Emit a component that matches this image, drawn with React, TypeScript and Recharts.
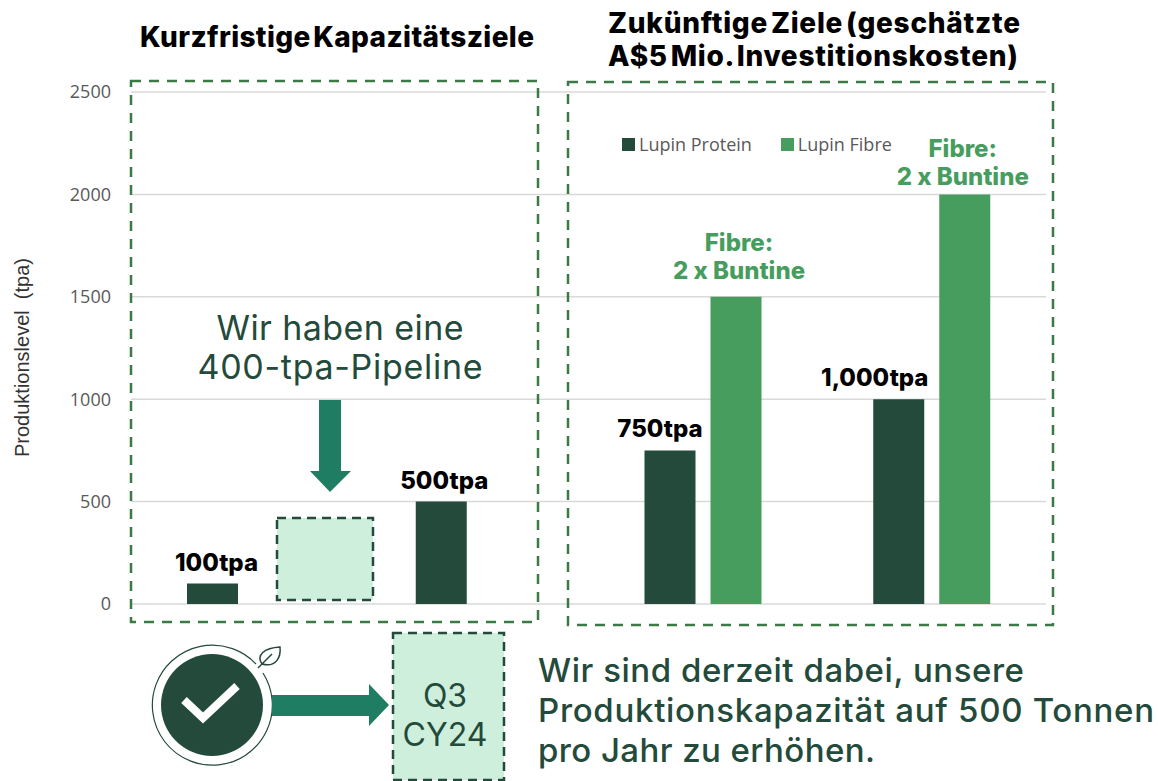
import { BarChart, Bar, YAxis, XAxis, CartesianGrid, LabelList, Legend } from "recharts";

const CATEGORIES = ["Kurzfristig 1", "Kurzfristig 2", "Zukunft 1", "Zukunft 2"];
const PROTEIN = [100, 500, 750, 1000];
const FIBRE = [0, 0, 1500, 2000];
const PROTEIN_LABELS = ["100tpa", "500tpa", "750tpa", "1,000tpa"];
const FIBRE_LABELS = ["", "", "Fibre:|2 x Buntine", "Fibre:|2 x Buntine"];
const Y_TICKS = [0, 500, 1000, 1500, 2000, 2500];

const data = CATEGORIES.map((name, i) => ({
  name,
  protein: PROTEIN[i],
  fibre: FIBRE[i],
  proteinLabel: PROTEIN_LABELS[i],
  fibreLabel: FIBRE_LABELS[i],
}));

const DARK = "#234a3a";
const GREEN = "#479d5e";
const TEAL = "#1f7d63";
const PALE = "#cdefdc";
const BOX = "#3b7a45";
const HEAD = "Inter, sans-serif";

// the labels do not sit centred over the bars in the original
const proteinShift: Record<string, number> = { "100tpa": 4, "500tpa": 3, "750tpa": -10, "1,000tpa": -24 };

function ProteinLabel(props: any) {
  const { x, y, width, value } = props;
  return (
    <text
      x={x + width / 2 + proteinShift[value]}
      y={y - 13}
      textAnchor="middle"
      fontFamily={HEAD}
      fontWeight={800}
      fontSize={24}
      fill="#000"
    >
      {value}
    </text>
  );
}

function FibreLabel(props: any) {
  const { x, y, width, value } = props;
  if (!value) return null;
  const lines = String(value).split("|");
  // the first one sits a bit right of its bar and higher up, the second left and lower
  const first = y > 250;
  const cx = x + width / 2 + (first ? 3 : -2);
  const base = first ? y : y + 9;
  return (
    <g fontFamily={HEAD} fontWeight={800} fontSize={24} fill={GREEN} textAnchor="middle">
      <text x={cx} y={base - 46}>{lines[0]}</text>
      <text x={cx} y={base - 18}>{lines[1]}</text>
    </g>
  );
}

function ChartLegend() {
  const items = [
    { label: "Lupin Protein", color: DARK },
    { label: "Lupin Fibre", color: GREEN },
  ];
  return (
    <div style={{ display: "flex", gap: 29, fontFamily: "'Open Sans', sans-serif", fontSize: 18, color: "#595959" }}>
      {items.map((it) => (
        <div key={it.label} style={{ display: "flex", alignItems: "center", gap: 4 }}>
          <span style={{ width: 13, height: 13, background: it.color, display: "inline-block" }} />
          {it.label}
        </div>
      ))}
    </div>
  );
}

function Overlay() {
  return (
    <svg width={1158} height={781} style={{ position: "absolute", left: 0, top: 0, pointerEvents: "none" }}>
      <g fontFamily={HEAD} fontWeight={800} fontSize={28} fill="#000" wordSpacing={-4}>
        <text x={140} y={47} textLength={394}>Kurzfristige Kapazitätsziele</text>
        <text x={608} y={33} textLength={412}>Zukünftige Ziele (geschätzte</text>
        <text x={608} y={66} textLength={410}>A$5 Mio. Investitionskosten)</text>
      </g>

      <g fill="none" stroke={BOX} strokeWidth={2.5} strokeDasharray="10 8">
        <rect x={131} y={81} width={407} height={541} />
        <rect x={568} y={82} width={485} height={543} />
      </g>

      <rect x={277} y={518} width={96} height={82} fill={PALE} stroke={DARK} strokeWidth={2.5} strokeDasharray="9 6" />

      <g fontFamily={HEAD} fontSize={34} fill={DARK} textAnchor="middle">
        <text x={340} y={340} textLength={247}>Wir haben eine</text>
        <text x={340} y={379} textLength={285}>400-tpa-Pipeline</text>
      </g>
      <polygon points="319,400 341,400 341,471 351,471 330,492 310,471 319,471" fill={TEAL} />

      <path d="M263,673 A60,60 0 1 1 256,664" fill="none" stroke={DARK} strokeWidth={1.2} />
      <circle cx={212} cy={705} r={51} fill={DARK} />
      <polyline points="184,700 203,718 237,686" fill="none" stroke="#fff" strokeWidth={8} />
      <path d="M258,668 L262,664 C256,655 264,648 280,647 C281,656 277,668 262,664 M262,664 L272,654" fill="#fff" stroke={DARK} strokeWidth={1.5} />
      <polygon points="272,695 369,695 369,684 389,705 369,726 369,716 272,716" fill={TEAL} />

      <rect x={393} y={633} width={111} height={147} fill={PALE} stroke={DARK} strokeWidth={2.5} strokeDasharray="9 6" />
      <g fontFamily={HEAD} fontSize={32} fill={DARK} textAnchor="middle">
        <text x={445} y={707}>Q3</text>
        <text x={445} y={746}>CY24</text>
      </g>

      <g fontFamily={HEAD} fontWeight={500} fontSize={33} fill={DARK}>
        <text x={538} y={682} textLength={486}>Wir sind derzeit dabei, unsere</text>
        <text x={538} y={722} textLength={616}>Produktionskapazität auf 500 Tonnen</text>
        <text x={538} y={762} textLength={337}>pro Jahr zu erhöhen.</text>
      </g>
    </svg>
  );
}

export default function App() {
  return (
    <div style={{ position: "absolute", left: 0, top: 0, width: 1158, height: 781, background: "#fff" }}>
      <BarChart
        width={1158}
        height={781}
        data={data}
        margin={{ top: 92, right: 112, bottom: 153, left: 5 }}
        barSize={51}
        barGap={15}
      >
        <CartesianGrid horizontal vertical={false} stroke="#d9d9d9" strokeWidth={1.5} />
        <XAxis dataKey="name" hide />
        <YAxis
          width={126}
          domain={[0, 2500]}
          ticks={Y_TICKS}
          interval={0}
          axisLine={false}
          tickLine={false}
          tickMargin={14}
          tick={{ fill: "#595959", fontSize: 18, fontFamily: "'Open Sans', sans-serif" }}
          label={{
            value: "Produktionslevel\u00a0 (tpa)",
            angle: -90,
            position: "insideLeft",
            dy: 109,
            dx: 12,
            style: { fill: "#333", fontSize: 20, fontFamily: "'Liberation Sans', sans-serif" },
          }}
        />
        <Legend content={<ChartLegend />} wrapperStyle={{ left: 622, top: 132, width: 320, bottom: "auto" }} />
        <Bar dataKey="protein" name="Lupin Protein" fill={DARK} isAnimationActive={false}>
          <LabelList dataKey="proteinLabel" content={<ProteinLabel />} />
        </Bar>
        <Bar dataKey="fibre" name="Lupin Fibre" fill={GREEN} isAnimationActive={false}>
          <LabelList dataKey="fibreLabel" content={<FibreLabel />} />
        </Bar>
      </BarChart>
      <Overlay />
    </div>
  );
}
